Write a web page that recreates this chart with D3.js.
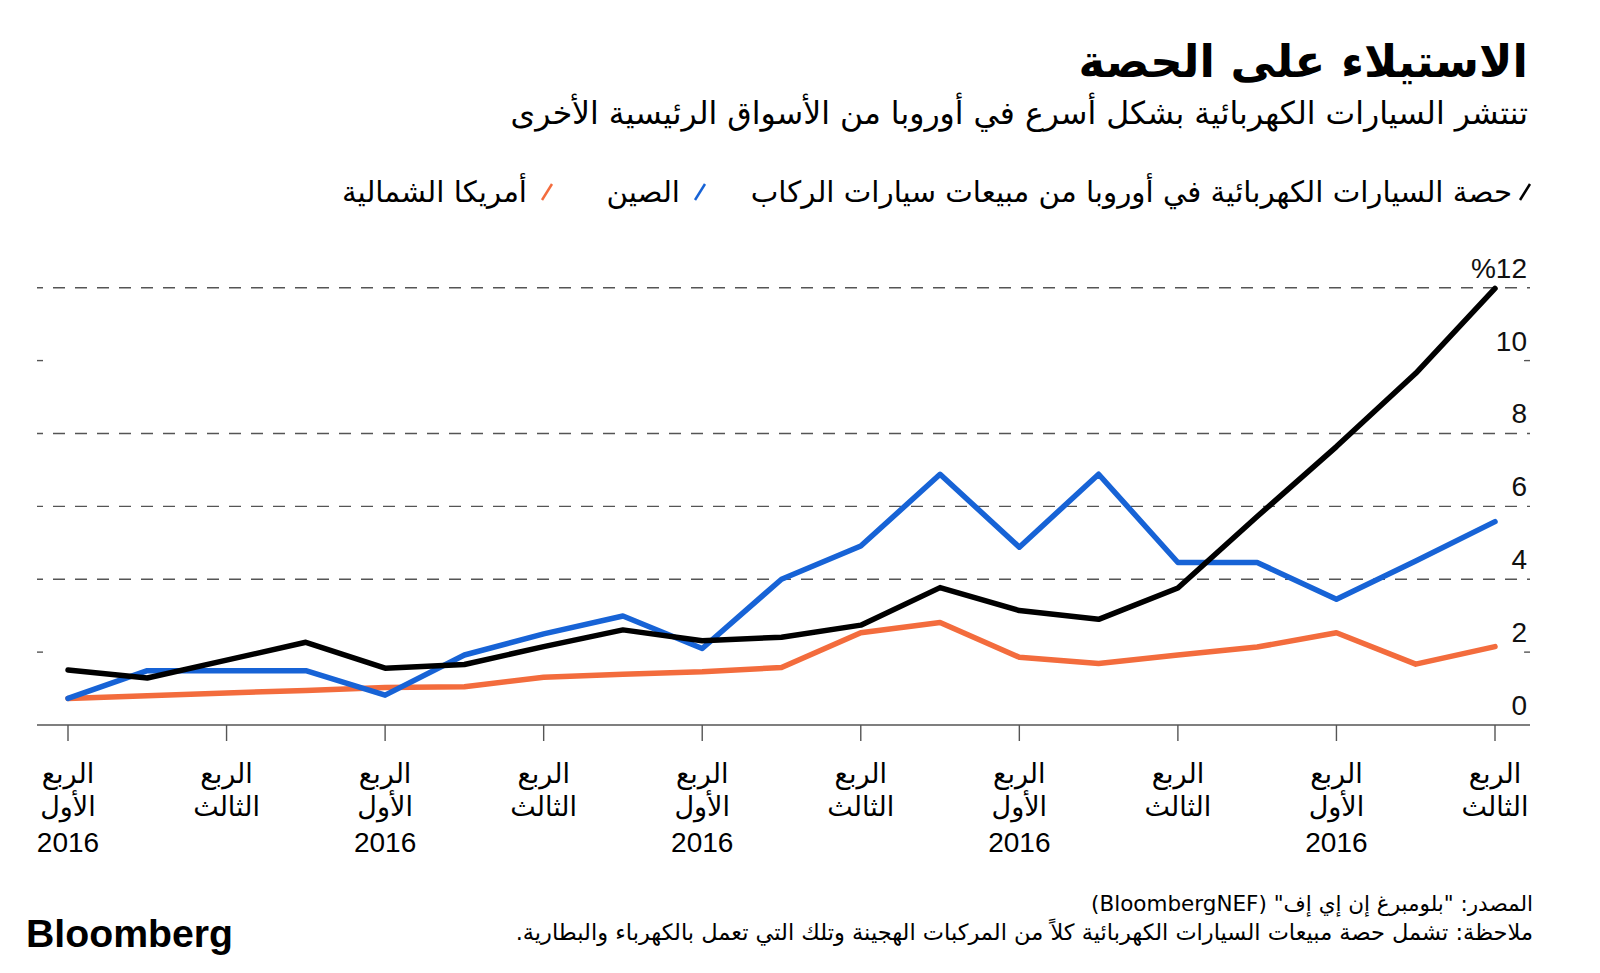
<!DOCTYPE html>
<html><head><meta charset="utf-8">
<script src="https://cdn.jsdelivr.net/npm/d3@7"></script>
<style>
html,body{margin:0;padding:0;background:#fff;}
svg{display:block;}
.ar{font-family:"DejaVu Sans",sans-serif;direction:rtl;}
.num{font-family:"Liberation Sans",Arial,sans-serif;}
</style></head>
<body>
<svg id="chart" width="1600" height="973"></svg>
<script>
// ---- data ----
const quarters = d3.range(19); // Q1 2016 .. Q3 2020 (19 quarters)
const europe = [1.51, 1.29, 1.78, 2.27, 1.56, 1.66, 2.15, 2.61, 2.31, 2.41, 2.74, 3.77, 3.14, 2.90, 3.76, 5.72, 7.64, 9.65, 11.98];
const china  = [0.73, 1.49, 1.49, 1.49, 0.82, 1.92, 2.50, 2.99, 2.10, 4.00, 4.91, 6.88, 4.88, 6.88, 4.46, 4.46, 3.45, 4.50, 5.58];
const northAmerica = [0.73, 0.80, 0.88, 0.95, 1.03, 1.05, 1.31, 1.39, 1.46, 1.58, 2.53, 2.81, 1.86, 1.69, 1.92, 2.14, 2.53, 1.67, 2.15];
const tickQuarters = [0, 2, 4, 6, 8, 10, 12, 14, 16, 18];
const tickLine1 = ["الربع","الربع","الربع","الربع","الربع","الربع","الربع","الربع","الربع","الربع"];
const tickLine2 = ["الأول","الثالث","الأول","الثالث","الأول","الثالث","الأول","الثالث","الأول","الثالث"];
const tickLine3 = ["2016","","2016","","2016","","2016","","2016",""];
const yTicks = [0, 2, 4, 6, 8, 10, 12];
const yTickLabels = ["0","2","4","6","8","10","%12"];
const dashedTicks = [4, 6, 8, 12];
const shortTicks = [2, 10];
const seriesNames = ["حصة السيارات الكهربائية في أوروبا من مبيعات سيارات الركاب","الصين","أمريكا الشمالية"];
const seriesColors = ["#000000","#1763d6","#f36c3d"];
const title = "الاستيلاء على الحصة";
const subtitle = "تنتشر السيارات الكهربائية بشكل أسرع في أوروبا من الأسواق الرئيسية الأخرى";
const source = "المصدر: \"بلومبرغ إن إي إف\" (BloombergNEF)";
const note = "ملاحظة: تشمل حصة مبيعات السيارات الكهربائية كلاً من المركبات الهجينة وتلك التي تعمل بالكهرباء والبطارية.";

const svg = d3.select("#chart");
const x = d3.scaleLinear().domain([0, 18]).range([68, 1495]);
const y = d3.scaleLinear().domain([0, 12]).range([725, 287.7]);
const left = 37, right = 1530;

// title
svg.append("text").attr("class","ar").attr("x",1528).attr("y",77)
  .attr("text-anchor","start").attr("font-size",45).attr("font-weight","bold").text(title);
svg.append("text").attr("class","ar").attr("x",1528).attr("y",124)
  .attr("text-anchor","start").attr("font-size",31.5).text(subtitle);

// legend
const legendSlashX = [1525, 700, 547];
const legendTextX = [1512, 680, 527];
seriesNames.forEach((n,i)=>{
  svg.append("line").attr("x1",legendSlashX[i]-5).attr("y1",200).attr("x2",legendSlashX[i]+5).attr("y2",184)
    .attr("stroke",seriesColors[i]).attr("stroke-width",2.5);
  svg.append("text").attr("class","ar").attr("x",legendTextX[i]).attr("y",202)
    .attr("text-anchor","start").attr("font-size",29.3).text(n);
});

// gridlines
const g = svg.append("g");
const dash = [6,10].concat(d3.range(80).flatMap(()=>[12,10])).join(",");
g.selectAll("line.grid").data(dashedTicks).join("line").attr("class","grid")
  .attr("x1",left).attr("x2",right).attr("y1",d=>y(d)).attr("y2",d=>y(d))
  .attr("stroke","#555").attr("stroke-width",1.4).attr("stroke-dasharray",dash);
shortTicks.forEach(t=>{
  g.append("line").attr("x1",left).attr("x2",left+6).attr("y1",y(t)).attr("y2",y(t)).attr("stroke","#555").attr("stroke-width",1.4);
  g.append("line").attr("x1",right-6).attr("x2",right).attr("y1",y(t)).attr("y2",y(t)).attr("stroke","#555").attr("stroke-width",1.4);
});
// y labels
g.selectAll("text.ylab").data(yTicks).join("text").attr("class","num ylab")
  .attr("x",1527).attr("y",d=>y(d)-10).attr("text-anchor","end").attr("font-size",28).attr("fill","#111")
  .text((d,i)=>yTickLabels[i]);

// x axis
g.append("line").attr("x1",left).attr("x2",right).attr("y1",y(0)).attr("y2",y(0)).attr("stroke","#555").attr("stroke-width",1.5);
g.selectAll("line.xt").data(tickQuarters).join("line").attr("class","xt")
  .attr("x1",d=>x(d)).attr("x2",d=>x(d)).attr("y1",y(0)).attr("y2",y(0)+16).attr("stroke","#555").attr("stroke-width",1.4);
tickQuarters.forEach((q,i)=>{
  svg.append("text").attr("class","ar").attr("x",x(q)).attr("y",783).attr("text-anchor","middle").attr("font-size",27).text(tickLine1[i]);
  svg.append("text").attr("class","ar").attr("x",x(q)).attr("y",816).attr("text-anchor","middle").attr("font-size",27).text(tickLine2[i]);
  if (tickLine3[i]) svg.append("text").attr("class","num").attr("x",x(q)).attr("y",852).attr("text-anchor","middle").attr("font-size",28).text(tickLine3[i]);
});

// lines
const line = d3.line().x((d,i)=>x(quarters[i])).y(d=>y(d));
[northAmerica, china, europe].forEach((s,k)=>{
  const c = [seriesColors[2], seriesColors[1], seriesColors[0]][k];
  svg.append("path").datum(s).attr("d",line).attr("fill","none").attr("stroke",c)
    .attr("stroke-width",5.5).attr("stroke-linejoin","round").attr("stroke-linecap","round");
});

// footer
svg.append("text").attr("class","ar").attr("x",1533).attr("y",911).attr("text-anchor","start").attr("font-size",21.5).text(source);
svg.append("text").attr("class","ar").attr("x",1533).attr("y",940).attr("text-anchor","start").attr("font-size",22.5).text(note);
svg.append("text").attr("x",26).attr("y",947).attr("font-family","Liberation Sans,Arial,sans-serif").attr("font-weight","bold")
  .attr("font-size",39).attr("textLength",207).attr("lengthAdjust","spacingAndGlyphs").text("Bloomberg");
</script>
</body></html>
